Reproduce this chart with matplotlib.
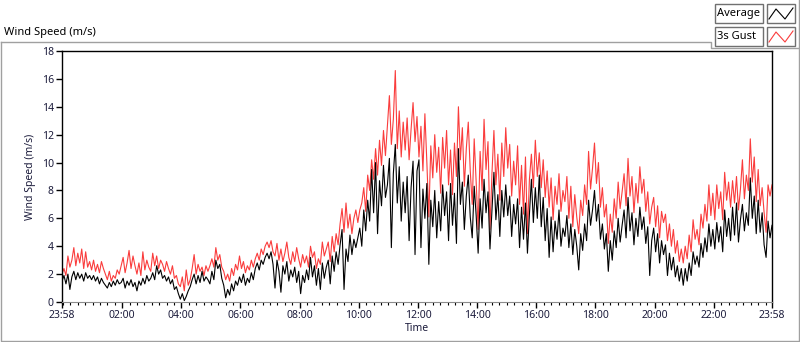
import numpy as np
import matplotlib
matplotlib.use("Agg")
import matplotlib.pyplot as plt
from matplotlib.lines import Line2D
from matplotlib.patches import Rectangle

# samples every 4 minutes starting at 23:58, one row per hour
gust = [
    2.0, 2.4, 1.9, 3.3, 2.5, 3.0, 3.9, 2.6, 3.5, 2.8, 3.8, 2.4, 3.6, 2.5, 2.9,
    2.3, 3.0, 2.2, 2.7, 2.1, 2.9, 2.4, 2.0, 1.6, 2.2, 1.5, 1.9, 1.7, 2.3, 2.0,
    2.6, 3.2, 2.1, 2.8, 3.7, 2.4, 3.3, 2.6, 2.0, 2.8, 1.9, 3.6, 2.3, 3.0, 2.5,
    2.2, 3.5, 2.6, 3.3, 2.4, 3.0, 2.7, 2.2, 2.9, 2.4, 2.0, 2.6, 1.7, 1.9, 1.3,
    1.1, 1.8, 0.8, 2.3, 1.2, 1.6, 2.4, 3.4, 2.0, 2.7, 2.2, 2.5, 1.9, 2.6, 2.2,
    2.6, 3.1, 2.5, 3.9, 3.0, 3.4, 2.5, 2.2, 1.6, 2.0, 1.5, 2.4, 1.9, 2.7, 2.3,
    3.3, 2.4, 2.9, 2.1, 2.6, 2.3, 3.0, 2.5, 3.1, 3.5, 3.0, 3.8, 3.4, 4.0, 4.3,
    3.9, 4.4, 3.6, 3.3, 4.2, 3.0, 3.8, 2.9, 3.5, 4.3, 3.2, 2.7, 3.6, 2.9, 3.9,
    3.1, 2.5, 3.4, 2.8, 3.3, 2.5, 4.0, 3.2, 3.6, 2.4, 3.1, 2.7, 4.3, 3.3, 3.8,
    4.3, 2.9, 4.7, 3.6, 4.9, 4.1, 5.6, 6.7, 5.0, 7.1, 5.3, 6.3, 4.9, 6.0, 6.6,
    5.7, 6.6, 7.1, 8.2, 6.5, 9.1, 8.0, 10.2, 8.8, 11.0, 9.1, 11.6, 9.8, 12.3, 10.5,
    12.6, 14.8, 11.3, 13.1, 16.6, 11.0, 13.7, 10.4, 12.9, 10.9, 13.2, 10.2, 12.4, 14.3, 11.5,
    13.3, 10.4, 12.6, 9.4, 13.5, 10.0, 6.1, 11.2, 8.9, 12.0, 9.3, 11.1, 7.8, 11.8, 9.6,
    12.3, 8.4, 10.9, 7.7, 11.4, 9.0, 14.0, 10.2, 12.5, 8.3, 11.0, 12.9, 9.4, 7.0, 11.7,
    8.6, 5.2, 10.8, 8.0, 13.1, 9.5, 11.5, 5.2, 9.2, 12.3, 8.4, 10.6, 7.3, 11.4, 9.0,
    12.5, 9.6, 11.3, 7.6, 10.1, 8.4, 11.2, 7.0, 9.8, 6.3, 10.4, 4.9, 8.8, 10.6, 8.2,
    11.6, 9.0, 10.7, 8.2, 10.2, 7.5, 9.4, 6.8, 8.9, 5.9, 8.3, 7.0, 9.2, 6.5, 8.0,
    7.2, 9.0, 6.0, 8.3, 5.4, 7.7, 6.1, 4.9, 7.3, 6.2, 8.4, 7.0, 10.8, 8.1, 9.6,
    11.4, 8.5, 10.0, 6.8, 8.2, 6.1, 7.0, 4.2, 6.3, 5.0, 7.4, 6.0, 8.6, 6.7, 7.9,
    9.2, 6.9, 10.3, 7.6, 9.0, 6.4, 8.5, 7.1, 9.7, 7.8, 8.8, 6.5, 7.9, 5.6, 6.8,
    7.5, 5.4, 6.9, 4.6, 6.5, 5.7, 6.3, 4.4, 5.6, 4.0, 5.2, 3.5, 4.4, 2.9, 3.8,
    2.8, 4.0, 3.1, 4.8, 3.6, 5.9, 4.5, 5.2, 4.1, 6.3, 5.3, 7.0, 5.8, 8.4, 6.2,
    7.8, 5.9, 8.4, 6.7, 7.9, 5.9, 9.3, 7.3, 8.6, 6.8, 8.7, 7.1, 9.0, 6.6, 8.1,
    10.2, 7.4, 9.1, 8.0, 11.7, 8.6, 10.4, 7.2, 9.5, 6.9, 8.2, 6.4, 5.0, 8.4, 7.6,
    8.4,
]
average = [
    1.5, 1.9, 1.3, 2.0, 0.9, 1.8, 2.2, 1.6, 2.1, 1.7, 2.0, 1.5, 2.1, 1.7, 1.9,
    1.6, 1.9, 1.5, 1.8, 1.3, 1.7, 1.4, 1.2, 1.0, 1.4, 1.1, 1.5, 1.2, 1.6, 1.3,
    1.4, 1.7, 1.0, 1.5, 1.2, 1.6, 1.1, 1.4, 0.8, 1.5, 1.2, 1.7, 1.3, 1.9, 1.5,
    1.7, 2.1, 1.6, 2.6, 2.0, 2.3, 1.7, 1.9, 1.5, 1.8, 1.3, 1.6, 0.9, 1.1, 0.6,
    0.2, 0.6, 0.1, 0.4, 0.8, 1.1, 1.6, 2.0, 1.3, 1.9, 1.4, 2.2, 1.5, 1.8, 1.6,
    1.3, 2.2, 1.6, 3.0, 2.4, 2.7, 1.7, 1.2, 0.3, 0.9, 0.5, 1.3, 0.8, 1.5, 1.2,
    1.8, 1.4, 2.0, 1.2, 1.7, 1.4, 2.1, 1.6, 2.4, 2.8, 2.3, 3.0, 2.7, 3.2, 3.5,
    3.1, 3.6, 2.7, 1.0, 3.0, 2.2, 0.7, 2.6, 2.0, 2.9, 1.5, 2.3, 1.8, 2.5, 1.4,
    2.2, 0.6, 1.9, 1.4, 2.3, 1.6, 3.2, 1.8, 2.6, 1.2, 2.4, 0.9, 2.8, 1.7, 2.5,
    3.0, 1.3, 3.3, 2.2, 3.6, 2.7, 4.1, 5.2, 0.9, 3.8, 2.9, 4.8, 3.4, 4.5, 3.9,
    4.6, 5.3, 4.0, 6.6, 5.1, 7.3, 5.8, 9.5, 6.4, 10.0, 4.9, 8.7, 6.9, 9.8, 7.5,
    8.4, 10.3, 3.9, 9.2, 11.3, 7.1, 9.7, 5.8, 8.6, 6.4, 9.0, 4.4, 8.2, 10.1, 3.4,
    9.4, 10.2, 3.9, 8.1, 6.0, 8.5, 2.7, 7.3, 5.4, 8.0, 4.6, 7.2, 5.1, 8.4, 6.2,
    7.9, 4.4, 8.5, 5.5, 7.8, 4.2, 11.0, 7.0, 8.6, 5.2, 7.6, 9.1, 6.1, 4.6, 8.3,
    6.2, 3.5, 7.4, 5.3, 8.8, 6.4, 7.9, 3.8, 6.6, 9.3, 5.9, 7.7, 4.7, 8.0, 6.1,
    8.4, 6.2, 7.6, 4.7, 7.0, 5.6, 7.4, 3.9, 6.8, 4.5, 7.1, 3.5, 6.3, 8.8, 5.7,
    8.2, 6.0, 9.1, 5.4, 7.5, 4.4, 6.7, 3.2, 6.1, 3.6, 5.8, 4.5, 6.6, 4.0, 5.3,
    4.7, 6.2, 3.9, 5.6, 3.4, 5.2, 4.0, 2.3, 4.9, 3.7, 5.6, 4.4, 7.3, 5.5, 6.6,
    8.0, 5.8, 7.0, 4.5, 5.6, 3.8, 4.9, 2.2, 4.4, 3.0, 5.1, 3.9, 6.0, 4.3, 5.5,
    6.6, 4.6, 7.5, 5.1, 6.4, 4.1, 6.0, 4.7, 6.8, 5.2, 6.1, 4.2, 5.4, 1.9, 4.4,
    5.3, 3.6, 4.9, 2.8, 4.4, 3.4, 4.1, 1.9, 3.5, 2.3, 3.2, 1.8, 2.6, 1.5, 2.4,
    1.2, 2.4, 1.5, 2.8, 1.9, 3.6, 2.7, 3.3, 2.5, 4.2, 3.2, 4.6, 3.6, 5.6, 4.0,
    5.2, 3.8, 5.7, 4.3, 5.4, 3.6, 6.6, 4.7, 6.0, 4.4, 6.8, 4.8, 7.1, 4.3, 5.9,
    7.0, 5.1, 6.4, 5.5, 8.9, 6.0, 7.6, 4.9, 7.3, 5.0, 6.4, 4.1, 3.2, 5.8, 4.6,
    5.5,
]
hours = np.arange(len(gust)) / 15.0

# major ticks: 23:58 then every two hours on the clock, then 23:58
major_pos = [0.0] + [h + 2 / 60 for h in range(2, 24, 2)] + [24.0]
major_labels = ["23:58", "02:00", "04:00", "06:00", "08:00", "10:00", "12:00",
                "14:00", "16:00", "18:00", "20:00", "22:00", "23:58"]
minor_pos = [k * 0.25 + 2 / 60 for k in range(96)]

txt = "#1c1c3c"
plt.rcParams["font.family"] = ["Noto Sans", "DejaVu Sans"]

fig = plt.figure(figsize=(8, 3.42), dpi=100)
W, H = 800.0, 342.0
ax = fig.add_axes([62 / W, 1 - 302 / H, 710 / W, 251 / H])

ax.plot(hours, gust, color="#fa3c3c", lw=0.8)
ax.plot(hours, average, color="black", lw=0.8)

ax.set_xlim(0, 24)
ax.set_ylim(0, 18)
ax.set_yticks(range(0, 19, 2))
ax.set_xticks(major_pos)
ax.set_xticklabels(major_labels)
ax.set_xticks(minor_pos, minor=True)
ax.tick_params(axis="both", which="major", labelsize=7.5, colors="black",
               labelcolor=txt, length=4, width=1, direction="out", pad=2)
ax.tick_params(axis="x", which="minor", length=2.5, width=0.8, color="black")
ax.set_xlabel("Time", fontsize=7.5, color=txt, labelpad=1)
ax.set_ylabel("Wind Speed (m/s)", fontsize=7.5, color=txt, labelpad=4)
for s in ["top", "right", "left"]:
    ax.spines[s].set_linewidth(1)
ax.spines["bottom"].set_color("#8c8c8c")

fig.text(4 / W, 1 - 32 / H, "Wind Speed (m/s)", fontsize=8, color="black",
         va="center", ha="left")

# panel border around the graph, with a notch for the legend
gray = "#a0a0a0"
def px_line(xs, ys, **kw):
    fig.add_artist(Line2D([x / W for x in xs], [1 - y / H for y in ys],
                          transform=fig.transFigure, **kw))

px_line([1, 1, 799], [42, 341, 341], color=gray, lw=1)
px_line([1, 711, 711, 799], [42, 42, 48, 48], color=gray, lw=1)
px_line([799, 799], [0, 341], color=gray, lw=1)

# legend boxes
for i, (name, col) in enumerate([("Average", "black"), ("3s Gust", "#fa3c3c")]):
    y0 = 4 + i * 23
    fig.add_artist(Rectangle((715 / W, 1 - (y0 + 19) / H), 48 / W, 19 / H,
                             transform=fig.transFigure, facecolor="white",
                             edgecolor="#707070", lw=1))
    fig.text(717 / W, 1 - (y0 + 9.5) / H, name, fontsize=8, color="black",
             va="center", ha="left")
    fig.add_artist(Rectangle((767 / W, 1 - (y0 + 19) / H), 28 / W, 19 / H,
                             transform=fig.transFigure, facecolor="white",
                             edgecolor="#707070", lw=1))
    px_line([769, 776, 785, 793], [y0 + 15, y0 + 5, y0 + 15, y0 + 4],
            color=col, lw=0.8)

fig.savefig("out.png", dpi=100)
